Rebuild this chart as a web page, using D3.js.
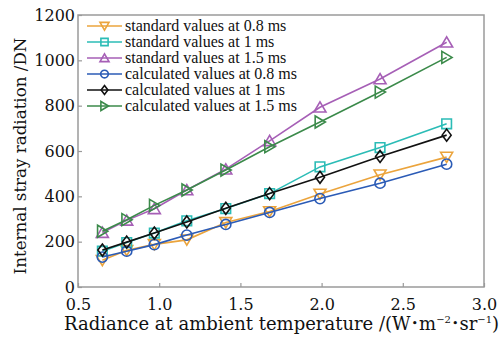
<!DOCTYPE html>
<html>
<head>
<meta charset="utf-8">
<script src="https://cdn.jsdelivr.net/npm/d3@7"></script>
<style>
  body { margin: 0; background: #fff; }
  svg { display: block; font-family: "DejaVu Serif", serif; }
</style>
</head>
<body>
<svg id="chart" width="499" height="340"></svg>
<script>
const radiance = [0.65, 0.80, 0.97, 1.17, 1.41, 1.68, 1.99, 2.36, 2.77];
const std08 = [118, 162, 188, 208, 285, 333, 410, 495, 573];
const std1 = [158, 196, 238, 292, 346, 412, 530, 615, 720];
const std15 = [240, 294, 345, 428, 520, 645, 793, 918, 1080];
const calc08 = [132, 158, 187, 229, 276, 329, 390, 458, 542];
const calc1 = [163, 198, 238, 287, 347, 412, 484, 576, 670];
const calc15 = [246, 297, 360, 428, 516, 619, 728, 860, 1013];
const seriesNames = [
  "standard values at 0.8 ms", "standard values at 1 ms", "standard values at 1.5 ms",
  "calculated values at 0.8 ms", "calculated values at 1 ms", "calculated values at 1.5 ms"
];
const xTicks = [0.5, 1.0, 1.5, 2.0, 2.5, 3.0];
const yTicks = [0, 200, 400, 600, 800, 1000, 1200];

const series = [
  { name: seriesNames[0], values: std08, color: "#eba43c", marker: "down" },
  { name: seriesNames[1], values: std1, color: "#2bbcb6", marker: "square" },
  { name: seriesNames[2], values: std15, color: "#a65fb6", marker: "up" },
  { name: seriesNames[3], values: calc08, color: "#2b5bb6", marker: "circle" },
  { name: seriesNames[4], values: calc1, color: "#111111", marker: "diamond" },
  { name: seriesNames[5], values: calc15, color: "#3b8a4a", marker: "right" }
];

const svg = d3.select("#chart");
const m = { left: 78, right: 15, top: 15, bottom: 53 };
const W = 499, H = 340;

const x = d3.scaleLinear().domain([0.5, 3.0]).range([m.left, W - m.right]);
const y = d3.scaleLinear().domain([0, 1200]).range([H - m.bottom, m.top]);

const axisColor = "#9a9a9a";

// markers
function markerPath(type, r) {
  switch (type) {
    case "down": return `M${-r},${-r * 0.8}L${r},${-r * 0.8}L0,${r * 0.9}Z`;
    case "up": return `M${-r},${r * 0.8}L${r},${r * 0.8}L0,${-r * 0.9}Z`;
    case "right": return `M${-r * 0.8},${-r}L${-r * 0.8},${r}L${r * 0.9},0Z`;
    case "square": { const s = r * 0.8; return `M${-s},${-s}H${s}V${s}H${-s}Z`; }
    case "diamond": return `M0,${-r}L${r * 0.75},0L0,${r}L${-r * 0.75},0Z`;
    case "circle": return d3.arc()({ innerRadius: 0, outerRadius: r * 0.85, startAngle: 0, endAngle: 2 * Math.PI });
  }
}

// frame
svg.append("rect")
  .attr("x", x(0.5)).attr("y", y(1200))
  .attr("width", x(3.0) - x(0.5)).attr("height", y(0) - y(1200))
  .attr("fill", "none").attr("stroke", axisColor).attr("stroke-width", 1.5);

// axes with inward ticks
const xAxis = svg.append("g")
  .attr("transform", `translate(0,${y(0)})`)
  .call(d3.axisBottom(x).tickValues(xTicks).tickFormat(d3.format(".1f")).tickSizeInner(-4).tickSizeOuter(0).tickPadding(12));
const yAxis = svg.append("g")
  .attr("transform", `translate(${x(0.5)},0)`)
  .call(d3.axisLeft(y).tickValues(yTicks).tickFormat(d3.format("d")).tickSizeInner(-4).tickSizeOuter(0).tickPadding(3));

[xAxis, yAxis].forEach(a => {
  a.attr("font-family", null).attr("font-size", null);
  a.select(".domain").remove();
  a.selectAll(".tick line").attr("stroke", axisColor).attr("stroke-width", 1.2);
  a.selectAll(".tick text").attr("fill", "#111").style("font-size", "16px");
});

// lines and markers
const line = d3.line().x((d, i) => x(radiance[i])).y(d => y(d));
const plot = svg.append("g");
series.forEach(s => {
  plot.append("path")
    .attr("d", line(s.values))
    .attr("fill", "none").attr("stroke", s.color).attr("stroke-width", 1.6);
  plot.selectAll(null)
    .data(s.values)
    .join("path")
    .attr("transform", (d, i) => `translate(${x(radiance[i])},${y(d)})`)
    .attr("d", markerPath(s.marker, 6))
    .attr("fill", "none").attr("stroke", s.color).attr("stroke-width", 1.6);
});

// legend
const legend = svg.append("g").attr("transform", "translate(87,26)");
series.forEach((s, i) => {
  const g = legend.append("g").attr("transform", `translate(0,${i * 16})`);
  g.append("line").attr("x1", 0).attr("x2", 35).attr("stroke", s.color).attr("stroke-width", 1.6);
  g.append("path").attr("transform", "translate(17.5,0)").attr("d", markerPath(s.marker, 4.5))
    .attr("fill", "none").attr("stroke", s.color).attr("stroke-width", 1.6);
  g.append("text").attr("x", 38).attr("dy", "0.33em")
    .style("font-family", "'Liberation Serif', serif")
    .style("font-size", "16px").attr("fill", "#111").text(s.name);
});

// axis titles
const xt = svg.append("text")
  .attr("x", 64).attr("y", 330)
  .style("font-size", "18px").attr("fill", "#111");
xt.append("tspan").text("Radiance at ambient temperature /(W");
xt.append("tspan").text("•").style("font-size", "11px").attr("dx", 1).attr("dy", -3);
xt.append("tspan").text("m").attr("dx", 1).attr("dy", 3);
xt.append("tspan").text("−2").style("font-size", "10px").attr("dy", -7);
xt.append("tspan").text("•").style("font-size", "11px").attr("dx", 1).attr("dy", 4);
xt.append("tspan").text("sr").attr("dx", 1).attr("dy", 3);
xt.append("tspan").text("−1").style("font-size", "10px").attr("dy", -7);
xt.append("tspan").text(")").attr("dy", 7);

svg.append("text")
  .attr("transform", `translate(26,156) rotate(-90)`)
  .attr("text-anchor", "middle")
  .style("font-size", "16.7px").attr("fill", "#111")
  .text("Internal stray radiation /DN");
</script>
</body>
</html>
